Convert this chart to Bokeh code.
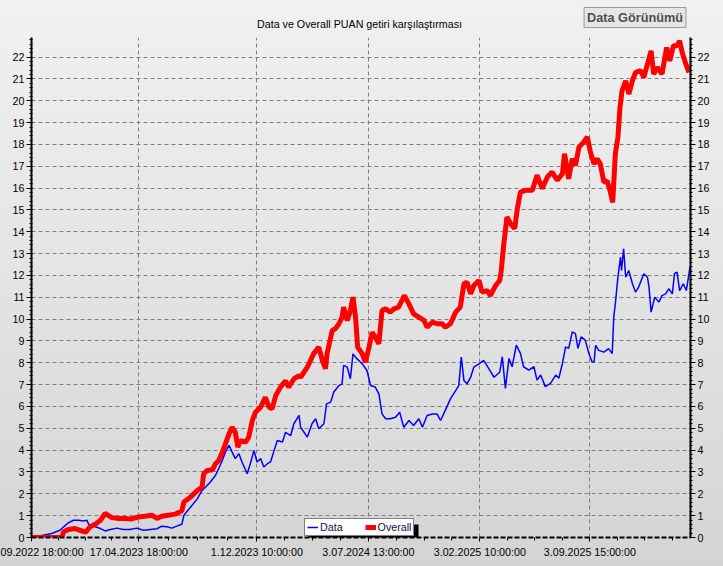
from datetime import datetime
from bokeh.plotting import figure
from bokeh.models import (Range1d, LinearAxis, SingleIntervalTicker, FixedTicker,
                          Legend, LegendItem, Label, BoxAnnotation)
from bokeh.embed import file_html
from bokeh.resources import INLINE

title_text = "Data ve Overall PUAN getiri karşılaştırması"
button_text = "Data Görünümü"
start_label = "22.09.2022 18:00:00"
end_label = "16.03.2026 18:00:00"
tick_dates = ["22.09.2022 18:00:00", "17.04.2023 18:00:00", "1.12.2023 10:00:00",
              "3.07.2024 13:00:00", "3.02.2025 10:00:00", "3.09.2025 15:00:00"]
# the first label is cut by the left edge of the window in the original
tick_texts = ["09.2022 18:00:00", "17.04.2023 18:00:00", "1.12.2023 10:00:00",
              "3.07.2024 13:00:00", "3.02.2025 10:00:00", "3.09.2025 15:00:00"]

# days after start_label
data_days = [0, 20, 39, 55, 62, 71, 81, 91, 100, 107, 110, 123, 133, 142, 152, 165, 177, 190, 203, 216,
             229, 242, 251, 261, 271, 280, 290,
             294, 307, 320, 329, 336, 345, 355, 361, 368, 374, 381, 387, 393, 400, 406, 416, 422, 429, 435, 442,
             448, 455, 461, 467, 474, 484, 490, 500, 506, 516,
             519, 532, 541, 548, 554, 564, 569, 577, 583, 593, 599, 602, 609, 615, 620, 628, 638, 647, 654, 663,
             670, 676, 683, 692, 702, 710, 718, 728, 737, 747, 754, 763, 773, 782, 789, 798, 808, 818, 824, 829,
             834, 840, 847, 853, 863, 872, 882, 892, 903,
             908, 914, 921, 927, 935, 943, 949, 959, 969, 975, 982, 991, 1001, 1011, 1017, 1024, 1030, 1036, 1043, 1049,
             1054, 1060, 1068, 1075, 1081,
             1085, 1088, 1094, 1104, 1113, 1120, 1123, 1126, 1131, 1136, 1138, 1142, 1146, 1152, 1159, 1165, 1171, 1181,
             1188, 1191, 1195, 1202, 1210, 1216, 1223, 1229, 1236, 1240, 1245, 1250, 1257, 1263, 1270]
data_vals = [0.0, 0.09, 0.18, 0.33, 0.49, 0.67, 0.79, 0.79, 0.76, 0.79, 0.61, 0.49, 0.41, 0.30, 0.37, 0.43, 0.37,
             0.37, 0.43, 0.33, 0.37, 0.40, 0.52, 0.49, 0.43, 0.52, 0.61,
             1.02, 1.40, 1.78, 2.16, 2.31, 2.54, 2.85, 3.15, 3.53, 3.91, 4.22, 3.91, 3.61, 3.84, 3.46, 2.92, 3.38, 3.99,
             3.46, 3.61, 3.23, 3.38, 3.46, 3.91, 4.44, 4.37, 4.82, 4.67, 5.21, 5.59,
             5.05, 4.60, 5.21, 5.44, 4.98, 5.21, 6.12, 6.20, 6.66, 6.96, 7.04, 7.88, 7.80, 7.27, 8.41, 8.18, 7.95, 7.65,
             6.96, 6.89, 6.58, 5.66, 5.44, 5.44, 5.51, 5.74, 5.05, 5.36, 5.13, 5.44, 5.05, 5.59, 5.66, 5.66, 5.36, 5.82,
             6.35, 6.73, 6.96, 8.26, 7.19, 7.04, 7.34, 7.80, 7.95, 8.11, 7.73, 7.34, 7.57,
             8.28, 6.83, 8.20, 7.82, 8.81, 8.43, 7.82, 7.67, 7.82, 7.21, 7.44, 6.91, 7.06, 7.44, 7.29, 7.97, 8.73, 8.66,
             9.42, 9.34, 8.66, 9.19, 9.04, 8.43, 8.05,
             8.04, 8.80, 8.57, 8.49, 8.65, 8.42, 10.09, 10.70, 11.92, 12.84, 12.23, 13.22, 11.92, 12.23, 11.62, 11.24,
             11.47, 12.08, 11.92, 11.47, 10.32, 11.01, 10.78, 11.08, 11.16, 11.39, 11.16, 12.08, 12.15, 11.31, 11.62,
             11.31, 12.38]

overall_days = [0, 58, 62, 71, 84, 94, 104, 113, 123, 133, 142, 155, 168, 181, 193, 206, 219, 232, 242, 251,
                264, 277, 290,
                294, 307, 320, 329, 332, 339, 349, 355, 361, 368, 374, 381, 387, 393, 398, 403, 413, 419, 426, 432,
                442, 451, 458, 464, 471, 480, 490, 496, 506, 516,
                519, 532, 544, 554, 561, 567, 570, 580, 586, 593, 599, 602, 609, 615, 620, 625, 629, 638, 644, 651,
                657, 663, 670, 676, 683, 692, 699, 708, 719, 728, 737, 747, 757, 763, 773, 782, 792, 798, 808, 818,
                827, 834, 840, 847, 853, 863, 869, 879, 885, 895, 903,
                906, 911, 917, 924, 932, 937, 943, 953, 966, 975, 985, 995, 1004, 1014, 1024, 1028, 1036, 1043, 1049,
                1056, 1065, 1072, 1078,
                1085, 1091, 1097, 1104, 1110, 1115, 1121, 1126, 1131, 1135, 1139, 1146, 1152, 1159, 1165, 1175, 1181,
                1188, 1195, 1200, 1207, 1216, 1225, 1231, 1238, 1245, 1250, 1255, 1261, 1268]
overall_vals = [0.0, 0.0, 0.26, 0.37, 0.41, 0.33, 0.24, 0.49, 0.61, 0.79, 1.10, 0.91, 0.87, 0.87, 0.85, 0.94, 0.97,
                1.02, 0.87, 0.97, 1.02, 1.07, 1.22,
                1.63, 1.86, 2.16, 2.31, 2.92, 3.07, 3.10, 3.38, 3.53, 3.91, 4.29, 4.75, 5.05, 4.82, 4.14, 4.44, 4.37,
                4.60, 5.36, 5.74, 5.97, 6.42, 5.97, 5.89, 6.50, 6.88, 7.18, 6.88, 7.26, 7.41,
                7.34, 7.80, 8.41, 8.72, 8.11, 7.73, 8.41, 9.48, 9.56, 9.79, 10.09, 10.55, 9.94, 10.40, 11.01, 10.09,
                8.72, 8.41, 8.03, 8.72, 9.40, 9.18, 8.87, 10.40, 10.47, 10.32, 10.47, 10.55, 11.08, 10.70, 10.24, 10.09,
                9.94, 9.63, 9.86, 9.79, 9.79, 9.63, 9.79, 10.32, 10.55, 11.62, 11.69, 11.16, 11.54, 11.77, 11.24, 11.31,
                11.08, 11.54, 11.77,
                12.24, 13.46, 14.68, 14.37, 14.15, 15.06, 15.82, 15.90, 15.90, 16.59, 15.98, 16.51, 16.74, 16.36, 16.66,
                17.58, 16.43, 17.35, 17.04, 17.88, 18.11, 18.34, 17.65,
                17.11, 17.34, 17.11, 16.27, 16.34, 15.96, 15.35, 17.56, 18.33, 19.70, 20.46, 20.92, 20.31, 20.92, 21.30,
                21.38, 21.07, 21.68, 22.29, 21.22, 21.53, 21.22, 22.44, 21.83, 22.52, 22.52, 22.75, 22.21, 21.76, 21.30]

FMT = "%d.%m.%Y %H:%M:%S"
t0 = datetime.strptime(start_label, FMT)


def hours_of(label):
    return int(round((datetime.strptime(label, FMT) - t0).total_seconds() / 3600))


tick_hours = [hours_of(s) for s in tick_dates]
x_end = hours_of(end_label)
data_x = [d * 24 for d in data_days]
overall_x = [d * 24 for d in overall_days]

minor = []
for a, b in zip(tick_hours[:-1], tick_hours[1:]):
    minor += [a + (b - a) * k / 4 for k in (1, 2, 3)]
last_gap = tick_hours[-1] - tick_hours[-2]
minor += [tick_hours[-1] + last_gap * k / 4 for k in range(1, 8)]

FONT = "Liberation Sans"
FS = "10.7px"

p = figure(width=723, height=566, output_backend="svg", toolbar_location=None,
           x_range=Range1d(0, x_end), y_range=Range1d(0, 22.9),
           min_border_left=31, min_border_right=33, min_border_top=37, min_border_bottom=29)
p.background_fill_color = None
p.border_fill_color = None
p.outline_line_color = None
p.styles = {"background": "linear-gradient(to bottom, #f1f1f1 0%, #e2e2e2 55%, #d4d4d4 100%)"}

r_data = p.line(x=data_x, y=data_vals, line_color="#0000ff", line_width=1.5)
r_over = p.line(x=overall_x, y=overall_vals, line_color="#ff0000", line_width=5)

p.yaxis.ticker = SingleIntervalTicker(interval=1, num_minor_ticks=5)
right_axis = LinearAxis(ticker=SingleIntervalTicker(interval=1, num_minor_ticks=5))
p.add_layout(right_axis, "right")
for ax in p.yaxis:
    ax.axis_line_color = "black"
    ax.axis_line_width = 2
    ax.major_tick_line_color = "black"
    ax.minor_tick_line_color = "black"
    ax.major_tick_in = 0
    ax.major_tick_out = 5
    ax.minor_tick_in = 1
    ax.minor_tick_out = 2
    ax.major_label_text_font = FONT
    ax.major_label_text_font_size = FS
    ax.major_label_text_color = "black"
    ax.major_label_standoff = 2

xa = p.xaxis[0]
xa.ticker = FixedTicker(ticks=tick_hours, minor_ticks=minor)
xa.major_label_overrides = {h: s for h, s in zip(tick_hours, tick_texts)}
xa.axis_line_color = "black"
xa.axis_line_width = 2
xa.axis_line_dash = "5 2"
xa.major_tick_line_color = "black"
xa.minor_tick_line_color = "black"
xa.major_tick_in = 0
xa.major_tick_out = 4
xa.minor_tick_in = 0
xa.minor_tick_out = 3
xa.major_label_text_font = FONT
xa.major_label_text_font_size = FS
xa.major_label_text_color = "black"
xa.major_label_standoff = 4

for g in (p.xgrid, p.ygrid):
    g.grid_line_color = "#7f7f7f"
    g.grid_line_dash = "4 3"
    g.grid_line_width = 1

# title and button live in the top panel (unclipped), placed in canvas pixels
title = Label(x=359, y=23, x_units="canvas", y_units="canvas", text=title_text,
              text_align="center", text_baseline="middle", text_font=FONT,
              text_font_size=FS, text_color="black")
p.add_layout(title, "above")

button = Label(x=634.5, y=17, x_units="canvas", y_units="canvas", text=button_text,
               text_align="center", text_baseline="middle", text_font=FONT,
               text_font_size="12.7px", text_font_style="bold", text_color="#4e4e4e",
               background_fill_color="#e6e6e6", border_line_color="#9a9a9a",
               border_line_width=1, padding=3)
p.add_layout(button, "above")

# legend drop shadow
shadow = BoxAnnotation(left=277, right=387, top=13, bottom=-3,
                       left_units="screen", right_units="screen",
                       top_units="screen", bottom_units="screen",
                       fill_color="black", fill_alpha=1.0, line_color=None)
p.add_layout(shadow)

legend = Legend(items=[LegendItem(label="Data", renderers=[r_data]),
                       LegendItem(label="Overall", renderers=[r_over])],
                location=(273, 1), orientation="horizontal",
                label_text_font=FONT, label_text_font_size=FS, label_text_color="#10104a",
                glyph_width=11, glyph_height=8, label_height=8, label_width=10,
                label_standoff=2, spacing=22, padding=2, margin=0,
                border_line_color="black", border_line_width=1,
                background_fill_color="white", background_fill_alpha=1.0)
p.add_layout(legend)

open("out.html", "w").write(file_html(p, INLINE))
